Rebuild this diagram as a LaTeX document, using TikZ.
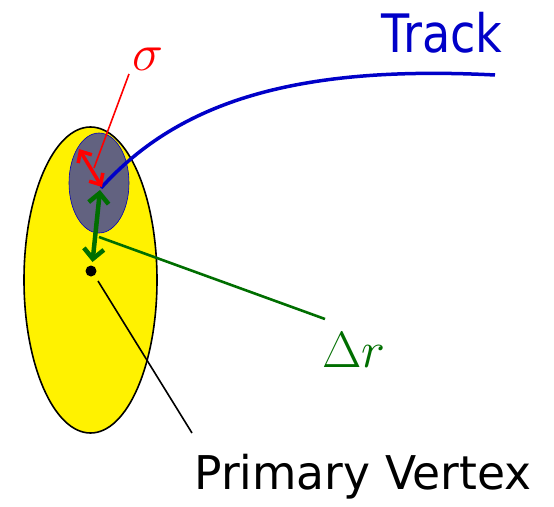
\documentclass[tikz,border=0pt]{standalone}
\usepackage{fontspec}
\setmainfont{DejaVu Sans}
\usetikzlibrary{arrows.meta,shapes.geometric}
\definecolor{trackblue}{RGB}{0,0,200}
\definecolor{sigred}{RGB}{255,0,0}
\definecolor{drgreen}{RGB}{0,110,0}
\definecolor{slate}{RGB}{98,98,128}
\tikzset{
  lbl/.style={inner sep=0pt},
  region/.style={ellipse, inner sep=0pt},
  mathbig/.style={font=\fontsize{24.88}{26}\selectfont},
}
\begin{document}
\begin{tikzpicture}[x=1pt,y=-1pt]
\useasboundingbox (0,0) rectangle (554,506);
% beam spot and uncertainty region
\node[region, draw=black, line width=1.6pt, fill=yellow, minimum width=133pt, minimum height=306pt] (spot) at (90.5,280) {};
\node[region, draw=blue!70!black, line width=0.6pt, fill=slate, minimum width=60pt, minimum height=100pt] (unc) at (99,183) {};
% points
\coordinate (tp) at (101,188);
\node[circle, fill=black, inner sep=0pt, minimum size=11pt] (pv) at (91,271) {};
% labels
\node[lbl, text=trackblue, font=\fontsize{53}{53}\selectfont, anchor=base] (track) at (442,52) {\scalebox{0.87}[1]{Track}};
\node[lbl, mathbig, text=sigred, anchor=base] (sig) at (148,70) {\scalebox{2.1}{$\sigma$}};
\node[lbl, mathbig, text=drgreen, anchor=base] (dr) at (354,367) {\scalebox{2.05}{$\Delta r$}};
\node[lbl, font=\fontsize{46.5}{46.5}\selectfont, anchor=base] (pvl) at (363,489) {\scalebox{0.98}[1]{Primary Vertex}};
\coordinate (sigend) at (129,74);
\coordinate (sigfoot) at (94,168);
\coordinate (drend) at (325,319);
\coordinate (drfoot) at (99,237);
\coordinate (pvend) at (192,433);
\coordinate (pvfoot) at (98,281);
% track
\draw[trackblue, line width=3.5pt] (tp) .. controls (180,100) and (300,65) .. (495,75);
% sigma arrow
\draw[sigred, line width=1.6pt] (sigend) -- (sigfoot);
\draw[sigred, line width=3.5pt, {Straight Barb[length=9pt,width=16pt]}-{Straight Barb[length=9pt,width=16pt]}] (79,149) -- (102,187);
% delta r arrow
\draw[drgreen, line width=2.6pt] (drfoot) -- (drend);
\draw[drgreen, line width=4.5pt, {Straight Barb[length=10pt,width=20pt]}-{Straight Barb[length=10pt,width=20pt]}] (100,190) -- (92.5,262);
% primary vertex line
\draw[black, line width=1.6pt] (pvfoot) -- (pvend);
\end{tikzpicture}
\end{document}
